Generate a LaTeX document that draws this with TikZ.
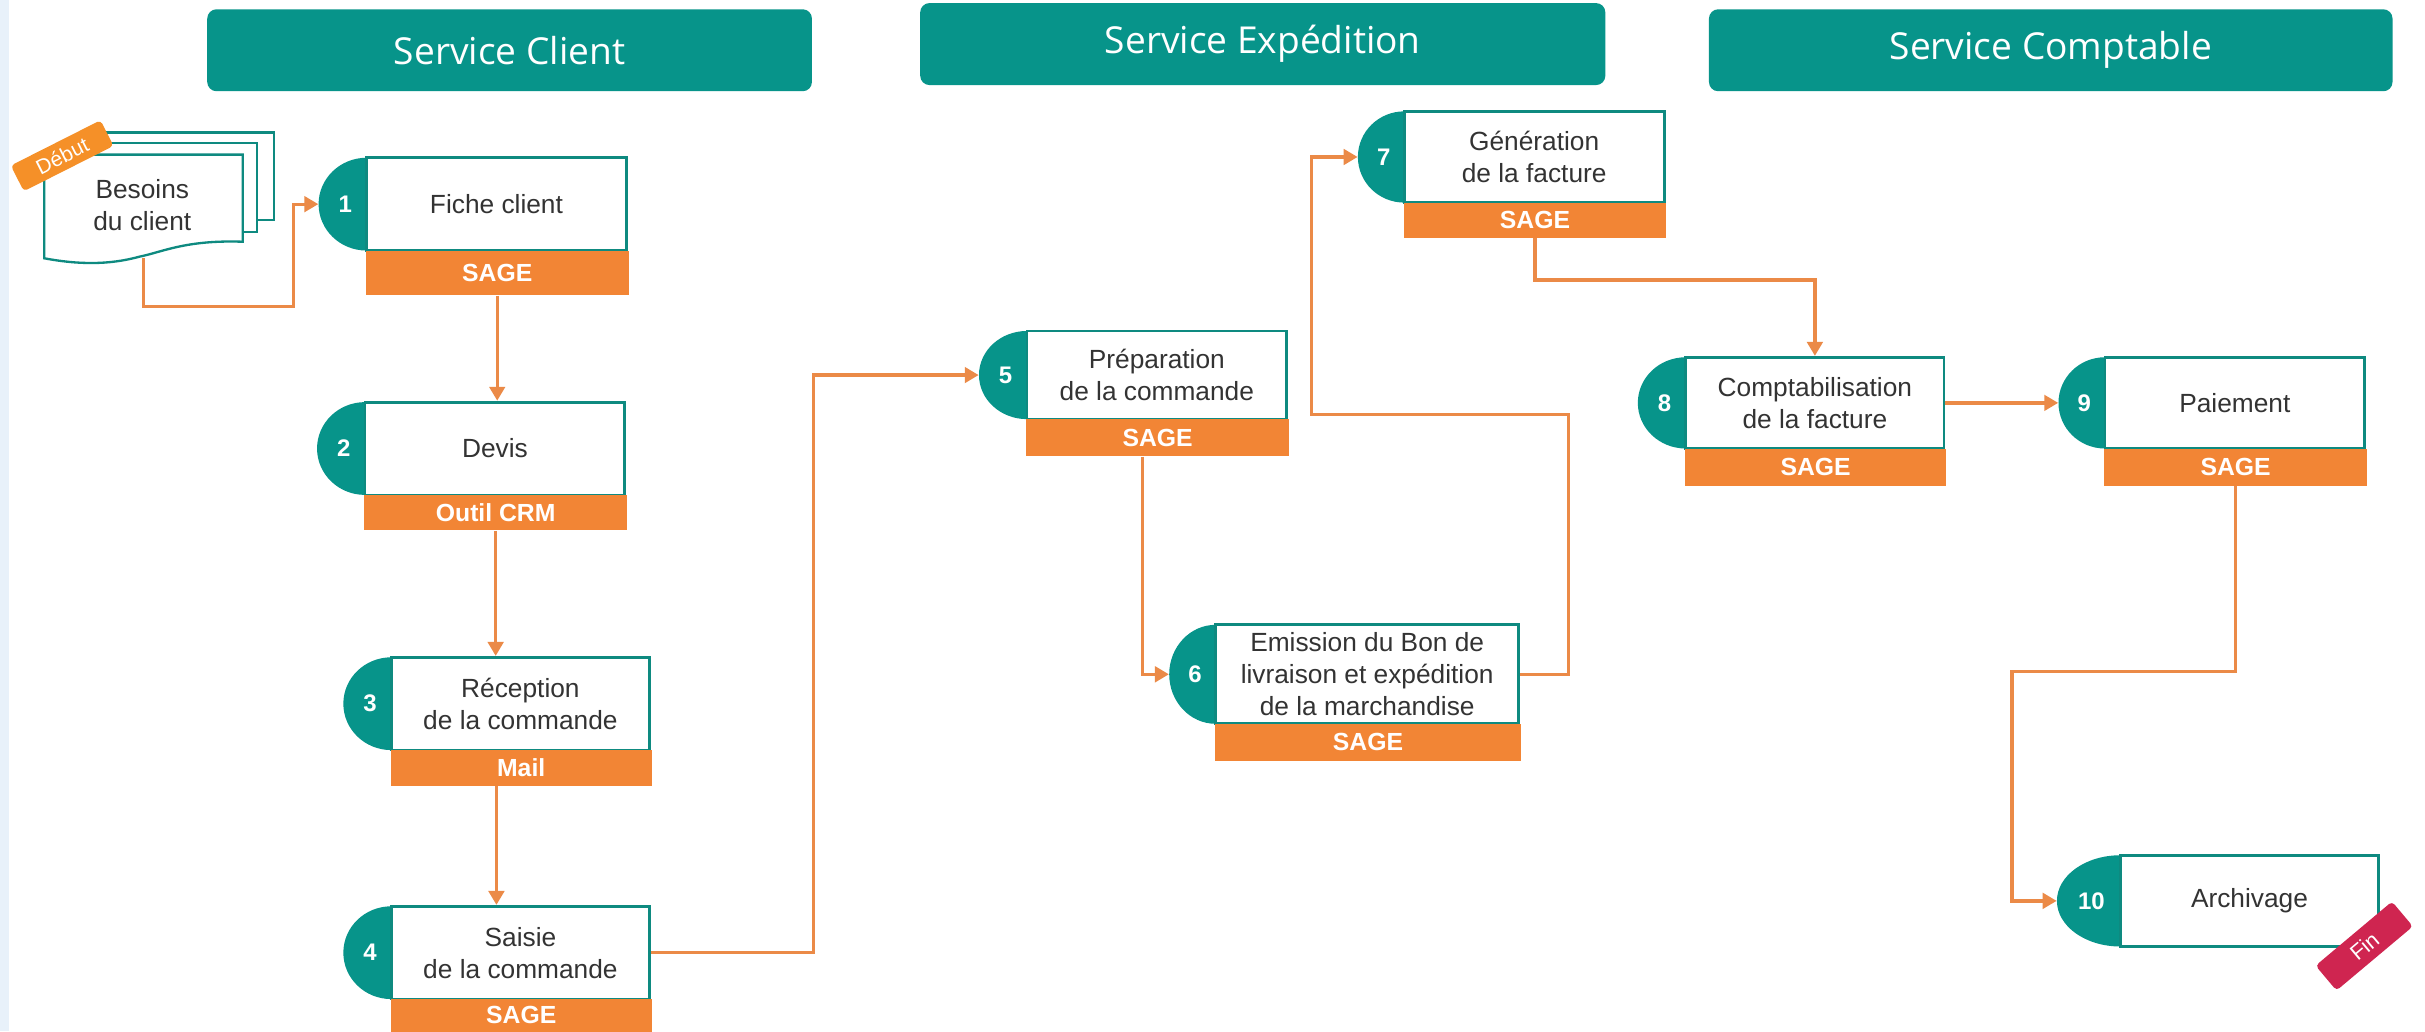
\documentclass[tikz,border=0pt]{standalone}
\usepackage{fontspec}
\setmainfont{Liberation Sans}
\newfontfamily\headfont{Open Sans}
\usetikzlibrary{calc,arrows.meta}
\definecolor{teal1}{HTML}{07948A}
\definecolor{tealline}{HTML}{0E8A80}
\definecolor{orange1}{HTML}{F28535}
\definecolor{orange2}{HTML}{F59028}
\definecolor{conncol}{HTML}{EB8A47}
\definecolor{crimson}{HTML}{CF2550}
\definecolor{side}{HTML}{E8F1FA}
\definecolor{ink}{HTML}{333333}
\tikzset{
  x=1pt,y=-1pt,
  header/.style={fill=teal1,rounded corners=6pt,text=white,inner sep=0pt,font=\headfont\fontsize{24}{28}\selectfont},
  stepbody/.style={draw=tealline,line width=1.8pt,fill=white,inner sep=0pt,align=center,text=ink,font=\fontsize{17}{20.8}\selectfont},
  steptag/.style={fill=orange1,inner sep=0pt,text=white,font=\bfseries\fontsize{16}{19}\selectfont},
  stepnum/.style={inner sep=0pt,text=white,font=\bfseries\fontsize{15.5}{18}\selectfont},
  conn/.style={draw=conncol,line width=2.1pt,-{Triangle[length=9pt,width=10pt]}},
  sheet/.style={draw=tealline,line width=1.5pt,fill=white},
  flag/.style={rounded corners=2.5pt,inner sep=0pt,text=white},
}
% id, left, boxleft, right, top, bottom, tagbottom, number, text, tag
\newcommand{\stepnode}[9]{%
  \def\Sid{#1}\def\Sl{#2}\def\Sb{#3}\def\Sr{#4}\def\St{#5}\def\Sbt{#6}\def\Stb{#7}\def\Snum{#8}\def\Stxt{#9}\stepnodeB}
\newcommand{\stepnodeB}[1]{%
  \pgfmathsetmacro{\rx}{\Sb-\Sl}\pgfmathsetmacro{\ry}{(\Sbt-\St)/2}%
  \fill[teal1] (\Sb,\St) arc[start angle=-90,end angle=-270,x radius=\rx,y radius=\ry] -- cycle;
  \node[stepnum,minimum width=\rx pt,minimum height=2*\ry pt] (s\Sid) at ({(\Sl+\Sb)/2},{(\St+\Sbt)/2}) {\hspace*{3.5pt}\Snum};
  \node[stepbody,minimum width=\Sr pt-\Sb pt,minimum height=\Sbt pt-\St pt] (b\Sid) at ({(\Sb+\Sr)/2},{(\St+\Sbt)/2}) {\Stxt};
  \ifx\relax#1\relax\else
  \node[steptag,minimum width=\Sr pt-\Sb pt+2pt,minimum height=\Stb pt-\Sbt pt] (t\Sid) at ({(\Sb+\Sr)/2+.5},{(\Sbt+\Stb)/2}) {#1};
  \fi
}
\begin{document}
\begin{tikzpicture}
\useasboundingbox (0,0) rectangle (1568,666.7);
\fill[white] (0,0) rectangle (1568,666.7);
\fill[side] (0,0) rectangle (5.7,666.7);
% headers
\node[header,minimum width=391pt,minimum height=53pt] (h1) at (329.5,32.5) {Service Client};
\node[header,minimum width=443pt,minimum height=53pt] (h2) at (816.5,28.5) {Service Expédition};
\node[header,minimum width=442pt,minimum height=53pt] (h3) at (1326,32.5) {Service Comptable};
% document stack
\draw[sheet] (53,85.6) rectangle (177,142.3);
\draw[sheet] (42,92.6) rectangle (166,149.8);
\draw[sheet] (28.6,100) -- (157,100) -- (157,156.3) .. controls (120,155) and (105,163) .. (90,166) .. controls (70,171.5) and (50,171) .. (28.6,167) -- cycle;
\node[inner sep=0pt,align=center,text=ink,font=\fontsize{17}{20.8}\selectfont] (doc) at (92,132.5) {Besoins\\du client};
\coordinate (docb) at (93,167);
% steps
\stepnode{1}{206}{237}{405}{102}{162}{191}{1}{Fiche client}{SAGE}
\stepnode{2}{205}{236}{404}{260}{320}{343}{2}{Devis}{Outil CRM}
\stepnode{3}{222}{253}{420}{425}{485}{508}{3}{Réception\\de la commande}{Mail}
\stepnode{4}{222}{253}{420}{586}{646}{667}{4}{Saisie\\de la commande}{SAGE}
\stepnode{5}{633}{664}{832}{214}{271}{295}{5}{Préparation\\de la commande}{SAGE}
\stepnode{6}{756}{786}{982}{404}{468}{492}{6}{Emission du Bon de\\livraison et expédition\\de la marchandise}{SAGE}
\stepnode{7}{878}{908}{1076}{72}{131}{154}{7}{Génération\\de la facture}{SAGE}
\stepnode{8}{1059}{1090}{1257}{231}{290}{314}{8}{Comptabilisation\\de la facture}{SAGE}
\stepnode{9}{1331}{1361}{1529}{231}{290}{314}{9}{Paiement}{SAGE}
\stepnode{10}{1330}{1371}{1538}{553}{612}{}{10}{Archivage}{}
% connectors
\coordinate (m01) at (190,198);
\draw[conn] (docb) |- (m01) |- (s1.west);
\draw[conn] (t1.south) -- (t1.south |- b2.north);
\draw[conn] (t2.south) -- (t2.south |- b3.north);
\coordinate (x34) at ($(t3.south)+(-16,0)$);
\draw[conn] (x34) -- (x34 |- b4.north);
\coordinate (m45) at (526,400);
\draw[conn] (b4.east) -| (m45) |- (s5.west);
\coordinate (x56) at ($(t5.south)+(-10,0)$);
\draw[conn] (x56) |- (s6.west);
\coordinate (m67a) at (1014,268);
\coordinate (m67b) at (848,268);
\draw[conn] (b6.east) -| (m67a) -- (m67b) |- (s7.west);
\coordinate (m78) at (1080,181);
\draw[conn] (t7.south) |- (m78) -| (b8.north);
\draw[conn] (b8.east) -- (s9.west);
\coordinate (m910a) at (t9.south |- 0,434);
\coordinate (m910b) at (1301,434);
\draw[conn] (t9.south) -- (m910a) -- (m910b) |- (s10.west);
% flags
\node[flag,fill=orange2,minimum width=65pt,minimum height=18.6pt,rotate=26.8,font=\fontsize{13.5}{15}\selectfont] (debut) at (40.2,100.7) {Début};
\node[flag,fill=crimson,minimum width=64.5pt,minimum height=21pt,rotate=40,font=\fontsize{14}{16}\selectfont] (fin) at (1528.7,611.7) {Fin};
\end{tikzpicture}
\end{document}
